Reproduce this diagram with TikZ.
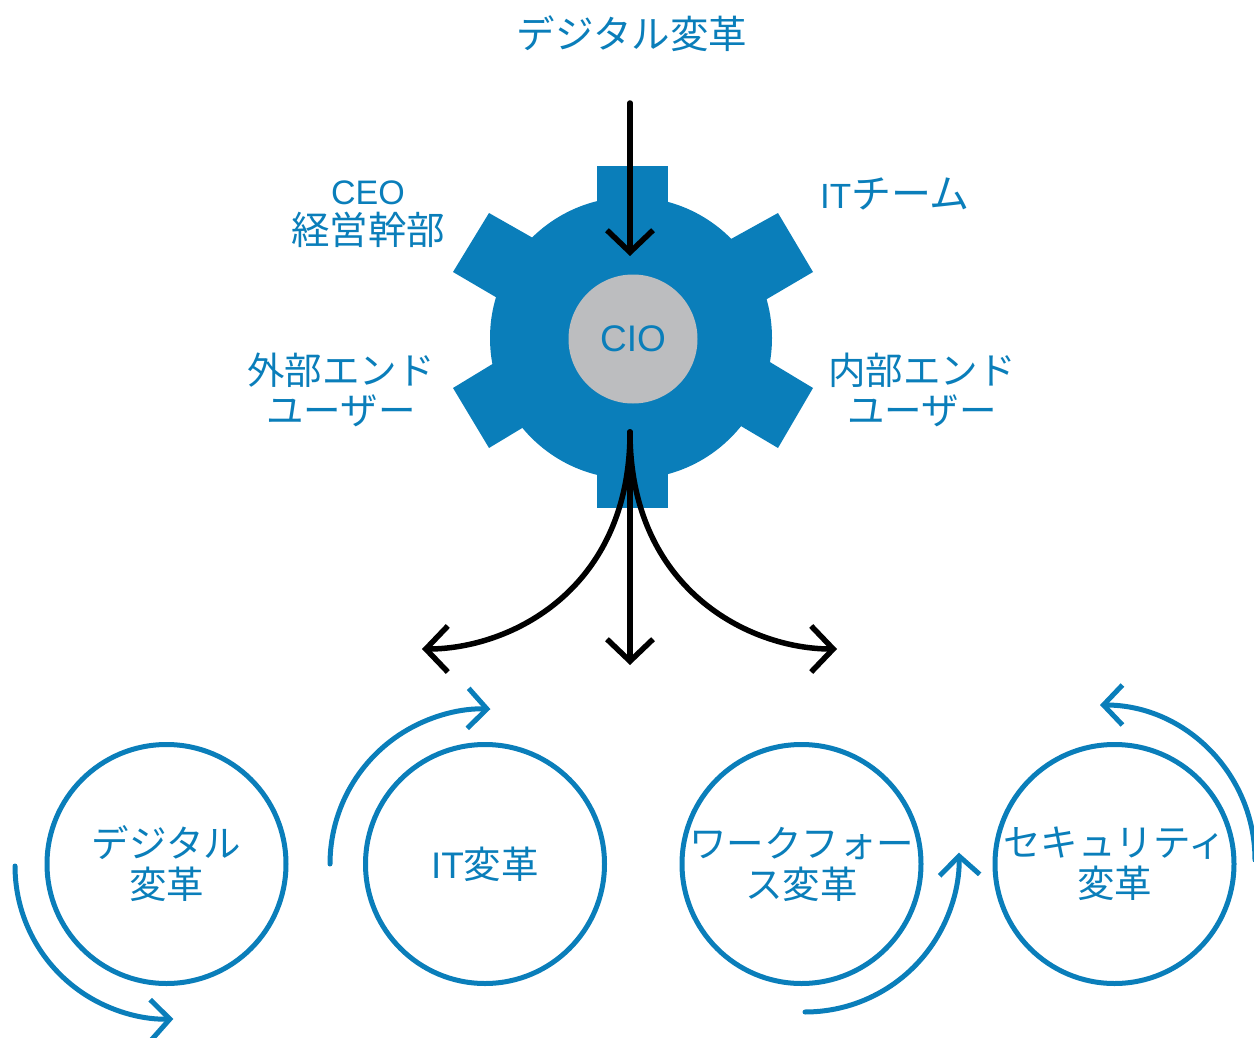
\documentclass[tikz,border=0pt]{standalone}
\usepackage{fontspec}
\setmainfont{Noto Sans CJK JP}
\newfontfamily\lat{Liberation Sans}
\usetikzlibrary{arrows.meta}
\definecolor{gearblue}{RGB}{10,126,186}
\definecolor{ciogray}{RGB}{188,189,191}
\tikzset{
  lbl/.style={text=gearblue, align=center, inner sep=0pt, font=\fontsize{37.5}{40}\selectfont},
  ring/.style={circle, draw=gearblue, line width=5pt, minimum size=239pt, inner sep=0pt,
    text=gearblue, align=center, font=\fontsize{37.5}{41}\selectfont},
  blackarrow/.style={draw=black, line width=5.5pt, line cap=round,
    -{Straight Barb[length=22pt,width=46pt]}},
  cyclearrow/.style={draw=gearblue, line width=5pt, line cap=round,
    -{Straight Barb[length=19pt,width=40pt]}},
  gearpart/.style={fill=gearblue, draw=none}
}
\begin{document}
\begin{tikzpicture}[x=1pt, y=1pt]
\useasboundingbox (0,0) rectangle (1254,-1038);
\clip (0,0) rectangle (1254,-1038);

% gear
\fill[gearpart] (631,-338) circle (141pt);
\fill[gearpart] (597,-166) -- (668,-166) -- (668,-300) -- (597,-300) -- cycle;
\fill[gearpart] (597,-508) -- (668,-508) -- (668,-380) -- (597,-380) -- cycle;
\fill[gearpart] (778,-213) -- (813,-272) -- (721,-326) -- (684,-265) -- cycle;
\fill[gearpart] (813,-388) -- (778,-448) -- (702,-403) -- (730,-338) -- cycle;
\fill[gearpart] (489,-213) -- (453,-272) -- (540,-323) -- (577,-263) -- cycle;
\fill[gearpart] (453,-388) -- (489,-448) -- (562,-404) -- (532,-340) -- cycle;

\node[circle, fill=ciogray, minimum size=129pt, inner sep=0pt, text=gearblue,
  font=\lat\fontsize{37}{40}\selectfont] (cio) at (633,-339) {CIO};

% labels
\node[lbl, font=\fontsize{38.5}{42}\selectfont] (title) at (632,-34) {デジタル変革};
\node[lbl, font=\fontsize{38.5}{40}\selectfont] (ceo) at (368,-214) {{\lat\fontsize{34}{40}\selectfont CEO}\\経営幹部};
\node[lbl, font=\fontsize{40}{40}\selectfont] (itteam) at (895,-194) {{\lat\fontsize{35}{40}\selectfont IT}チーム};
\node[lbl] (ext) at (341,-390) {外部エンド\\ユーザー};
\node[lbl] (int) at (922,-390) {内部エンド\\ユーザー};

% arrows in / out
\coordinate (inStart) at (630,-103);
\coordinate (inEnd) at (630,-256);
\draw[blackarrow] (inStart) -- (inEnd);

\coordinate (outStart) at (630,-432);
\coordinate (outL) at (422,-649);
\coordinate (outM) at (630,-665);
\coordinate (outR) at (837,-649);
\draw[blackarrow] (outStart) .. controls (630,-590) and (510,-649) .. (outL);
\draw[blackarrow] (outStart) -- (outM);
\draw[blackarrow] (outStart) .. controls (630,-590) and (750,-649) .. (outR);

% rings
\node[ring] (r1) at (166.5,-864) {デジタル\\変革};
\node[ring] (r2) at (485,-864) {{\lat\fontsize{37}{40}\selectfont IT}変革};
\node[ring] (r3) at (801.5,-864) {ワークフォー\\ス変革};
\node[ring] (r4) at (1114.5,-864) {セキュリティ\\変革};

% cycle arrows
\coordinate (c1) at (15,-866);
\coordinate (c2) at (330,-864);
\coordinate (c3) at (805,-1012);
\coordinate (c4) at (1255,-860);
\draw[cyclearrow] (c1) arc[start angle=180, end angle=272, radius=153pt];
\draw[cyclearrow] (c2) arc[start angle=180, end angle=88, radius=155pt];
\draw[cyclearrow] (c3) arc[start angle=270, end angle=362, radius=154pt];
\draw[cyclearrow] (c4) arc[start angle=0, end angle=90, radius=155pt];
\end{tikzpicture}
\end{document}
